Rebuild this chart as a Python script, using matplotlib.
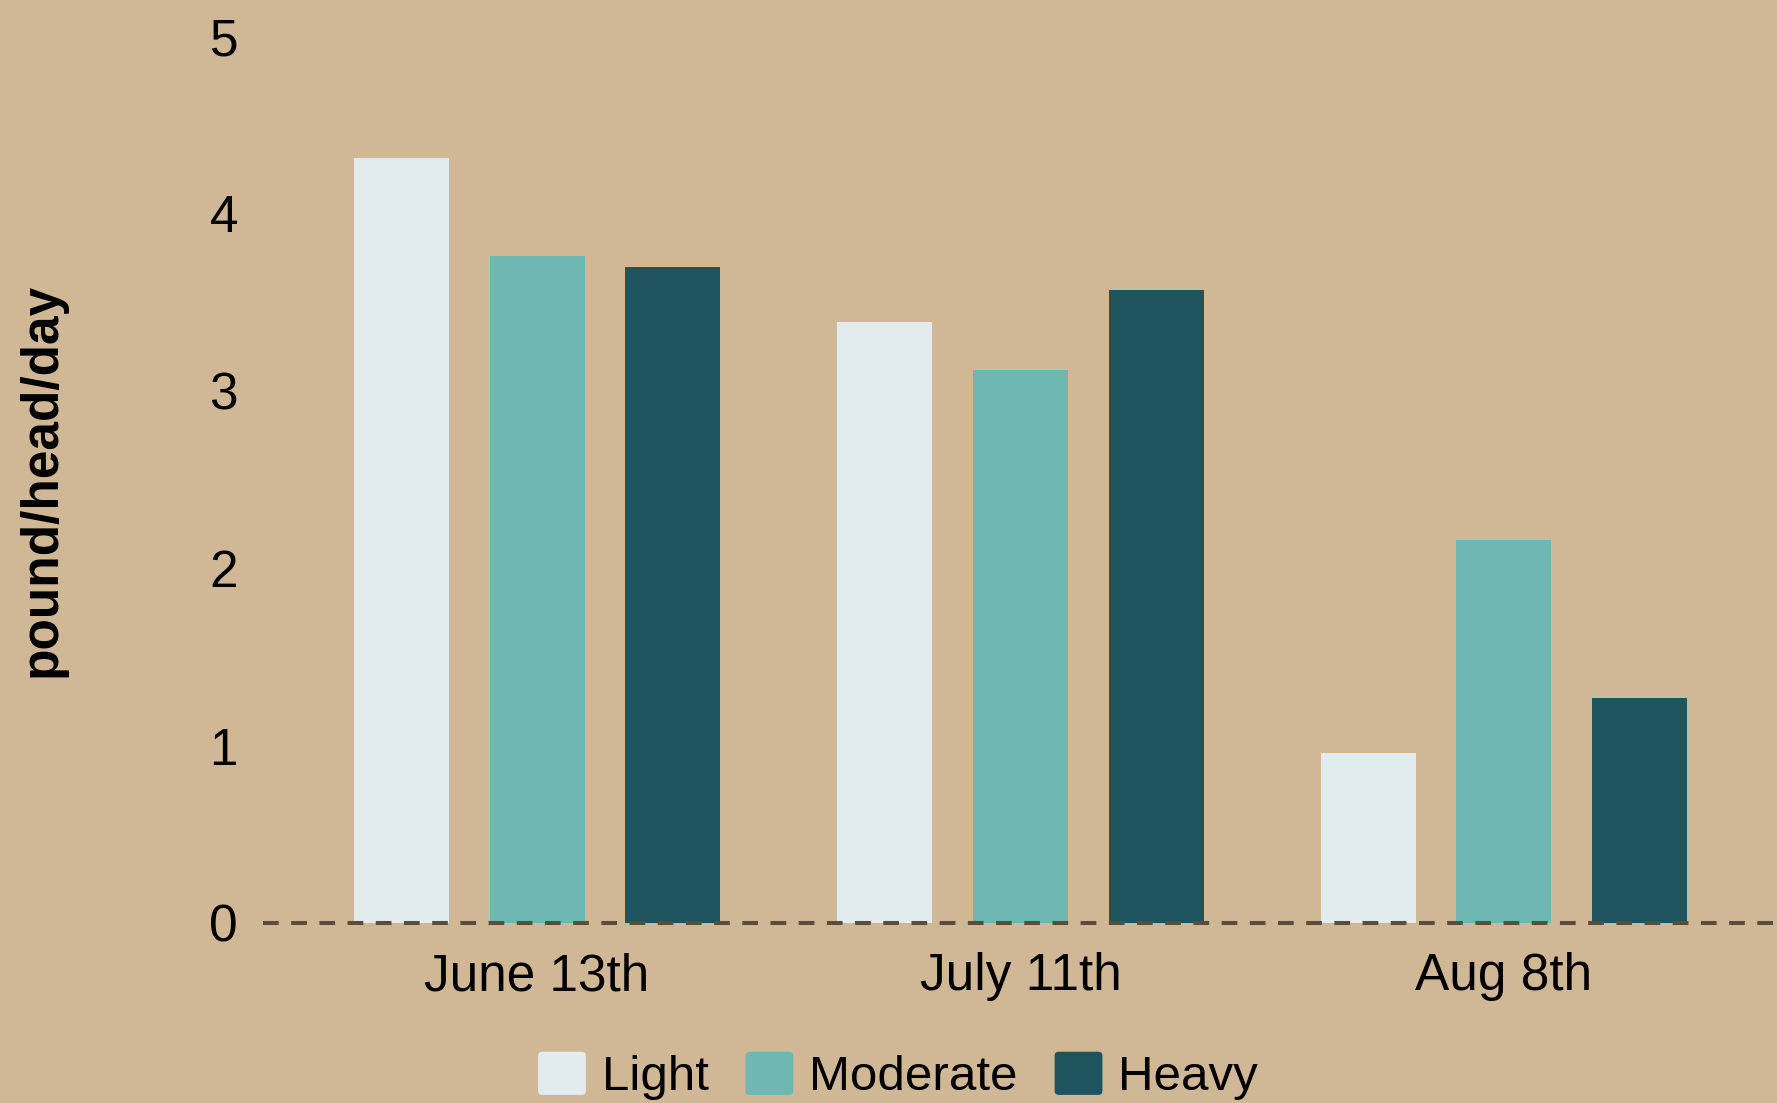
import matplotlib
matplotlib.use("Agg")
import matplotlib.pyplot as plt
from matplotlib.patches import FancyBboxPatch, Rectangle
from matplotlib.legend_handler import HandlerPatch
import numpy as np

plt.rcParams['font.family'] = ['Liberation Sans', 'DejaVu Sans']

# data
dates = ["June 13th", "July 11th", "Aug 8th"]
series = ["Light", "Moderate", "Heavy"]
light = [4.31, 3.39, 0.96]
moderate = [3.76, 3.12, 2.16]
heavy = [3.70, 3.57, 1.27]

BG = "#D0B896"
COLORS = ["#E2EBED", "#6FB8B2", "#1F545E"]
LINE = "#5A4D3E"


class RoundKey(HandlerPatch):
    # legend keys with slightly rounded corners
    def create_artists(self, legend, orig_handle, xdescent, ydescent,
                       width, height, fontsize, trans):
        p = FancyBboxPatch((-xdescent, -ydescent), width, height,
                           boxstyle="round,pad=0,rounding_size=3",
                           facecolor=orig_handle.get_facecolor(),
                           edgecolor='none', transform=trans)
        return [p]


fig = plt.figure(figsize=(17.77, 11.03), dpi=100, facecolor=BG)
ax = fig.add_axes([263 / 1777, 180 / 1103, 1 - 263 / 1777, (1067 - 180) / 1103])
ax.set_facecolor(BG)

x = np.arange(len(dates))
step = 0.281
width = 0.7 * step
bars = []
for i, (vals, name) in enumerate(zip([light, moderate, heavy], series)):
    b = ax.bar(x + (i - 1) * step, vals, width=width, color=COLORS[i], label=name, zorder=2)
    bars.append(b)

ax.axhline(0, color=LINE, lw=2.9, linestyle=(0, (3.9, 3.1)), zorder=3, clip_on=False)

ax.set_xlim(-0.567, 2.565)
ax.set_ylim(0, 5)
ax.set_xticks(x)
ax.set_xticklabels(dates)
ax.set_yticks(range(6))
ax.tick_params(axis='both', length=0, labelsize=37, colors='black')
ax.tick_params(axis='x', pad=21)
ax.tick_params(axis='y', pad=18)
for s in ax.spines.values():
    s.set_visible(False)

fig.text(42 / 1777, 1 - 480 / 1103, "pound/head/day", rotation=90, fontsize=37,
         fontweight='bold', ha='center', va='center')

handles = [Rectangle((0, 0), 1, 1, facecolor=c) for c in COLORS]
fig.legend(handles, series, loc='center', bbox_to_anchor=(898 / 1777, 27 / 1103), ncol=3,
           frameon=False, fontsize=35.5, handlelength=0.97, handleheight=0.97,
           handletextpad=0.32, columnspacing=0.75, borderaxespad=0,
           handler_map={Rectangle: RoundKey()})

fig.savefig("out.png", dpi=100, facecolor=BG)
